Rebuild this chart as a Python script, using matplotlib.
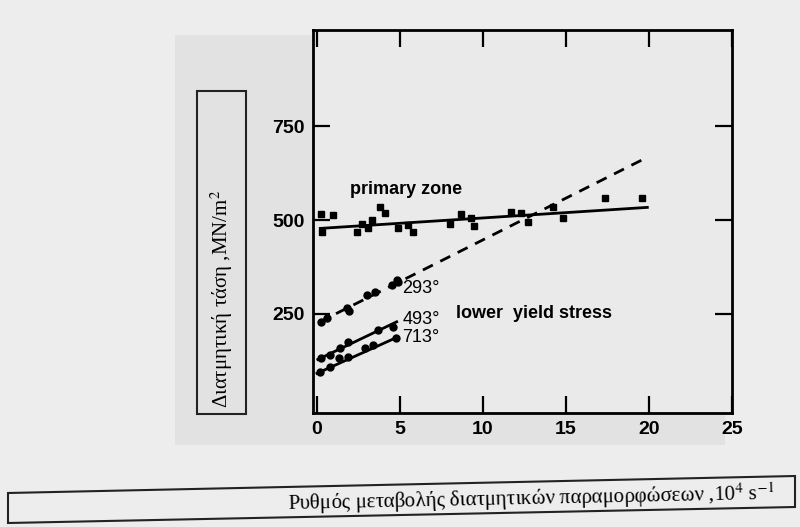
import matplotlib
matplotlib.use("Agg")
import matplotlib.pyplot as plt
import numpy as np
from matplotlib.patches import Polygon, Rectangle

# --- data (strain rate 10^4 s^-1, shear stress MN/m^2) ---
primary_x = [0.22, 0.28, 0.97, 2.39, 2.69, 3.08, 3.3, 3.8, 4.1, 4.88, 5.5, 5.8,
             8.0, 8.7, 9.3, 9.46, 11.7, 12.3, 12.7, 14.2, 14.8, 17.35, 19.6]
primary_y = [516, 469, 513, 469, 489, 479, 500, 536, 518, 479, 487, 469,
             489, 516, 505, 484, 522, 518, 496, 536, 505, 560, 560]
primary_fit = (477, 2.85)          # intercept, slope
primary_range = [0.2, 19.9]

t293_x = [0.22, 0.58, 1.79, 1.9, 3.0, 3.5, 4.5, 4.8, 4.9]
t293_y = [228, 237, 264, 258, 299, 308, 326, 340, 333]
dashed_fit = (224, 22.3)
dashed_range = [0.1, 19.9]

t493_x = [0.22, 0.78, 1.39, 1.89, 3.69, 4.6]
t493_y = [130, 139, 159, 175, 206, 215]
t493_fit = (126, 21.2)
t493_range = [0.05, 4.8]

t713_x = [0.18, 0.78, 1.34, 1.89, 2.9, 3.4, 4.76]
t713_y = [94, 108, 130, 134, 157, 166, 184]
t713_fit = (90, 20.0)
t713_range = [0.0, 4.8]

x_ticks = [0, 5, 10, 15, 20, 25]
y_ticks = [250, 500, 750]

W, H = 800, 527
fig = plt.figure(figsize=(8, 5.27), dpi=100, facecolor="#ededed")


def fx(px):
    return px / W


def fy(py):
    return 1 - py / H


# grey photo area of the scanned page behind the chart
fig.patches.append(Rectangle((fx(175), fy(445)), fx(725) - fx(175), fy(35) - fy(445),
                             transform=fig.transFigure, facecolor="#e2e2e2",
                             edgecolor="none", zorder=-10))

ax = fig.add_axes([fx(313), fy(413), fx(732) - fx(313), fy(30) - fy(413)])
ax.set_zorder(1)
ax.set_facecolor("#eaeaea")


def fit_line(fit, rng):
    xs = np.array(rng)
    return xs, fit[0] + fit[1] * xs


ax.plot(*fit_line(primary_fit, primary_range), color="black", lw=2.0)
ax.plot(*fit_line(dashed_fit, dashed_range), color="black", lw=2.0,
        linestyle=(0, (4, 3)))
ax.plot(*fit_line(t493_fit, t493_range), color="black", lw=2.0)
ax.plot(*fit_line(t713_fit, t713_range), color="black", lw=2.0)

ax.plot(primary_x, primary_y, "s", color="black", ms=5)
for xs, ys in [(t293_x, t293_y), (t493_x, t493_y), (t713_x, t713_y)]:
    ax.plot(xs, ys, "o", color="black", ms=5)

ann = dict(family="Liberation Sans", fontsize=13, color="black")
ax.text(5.15, 318, "293°", va="center", ha="left", **ann)
ax.text(5.15, 233, "493°", va="center", ha="left", **ann)
ax.text(5.15, 186, "713°", va="center", ha="left", **ann)
ax.text(2.0, 582, "primary zone", va="center", ha="left", fontweight="bold", **ann)
ax.text(8.4, 251, "lower  yield stress", va="center", ha="left",
        fontweight="bold", **ann)

ax.set_xlim(-0.24, 25.0)
ax.set_ylim(-16, 1008)
ax.set_xticks(x_ticks)
ax.set_yticks(y_ticks)
ax.tick_params(direction="in", length=12, width=1.6, top=True, right=True,
               labelsize=14, pad=6)
for lab in ax.get_xticklabels() + ax.get_yticklabels():
    lab.set_fontweight("bold")
    lab.set_family("Liberation Sans")
for sp in ax.spines.values():
    sp.set_linewidth(2.0)

# y label box
fig.patches.append(Rectangle((fx(197), fy(414)), fx(246) - fx(197), fy(91) - fy(414),
                             transform=fig.transFigure, fill=False,
                             edgecolor="#222222", lw=1.5))
fig.text(fx(222), fy(408), "Διατμητική τάση ,MN/m$^2$", rotation=90,
         ha="center", va="bottom", family="Liberation Serif", fontsize=15,
         math_fontfamily="stix")

# x label box (slightly tilted, as in the scan)
fig.patches.append(Polygon([(fx(8), fy(493)), (fx(795), fy(476)),
                            (fx(795), fy(507)), (fx(8), fy(523))],
                           closed=True, transform=fig.transFigure, fill=False,
                           edgecolor="#222222", lw=1.5))
fig.text(fx(775), fy(499), "Ρυθμός μεταβολής διατμητικών παραμορφώσεων ,10$^4$ s$^{-1}$",
         ha="right", va="center", rotation=1.2, family="Liberation Serif",
         fontsize=15, math_fontfamily="stix")

fig.savefig("out.png", dpi=100, facecolor=fig.get_facecolor())
